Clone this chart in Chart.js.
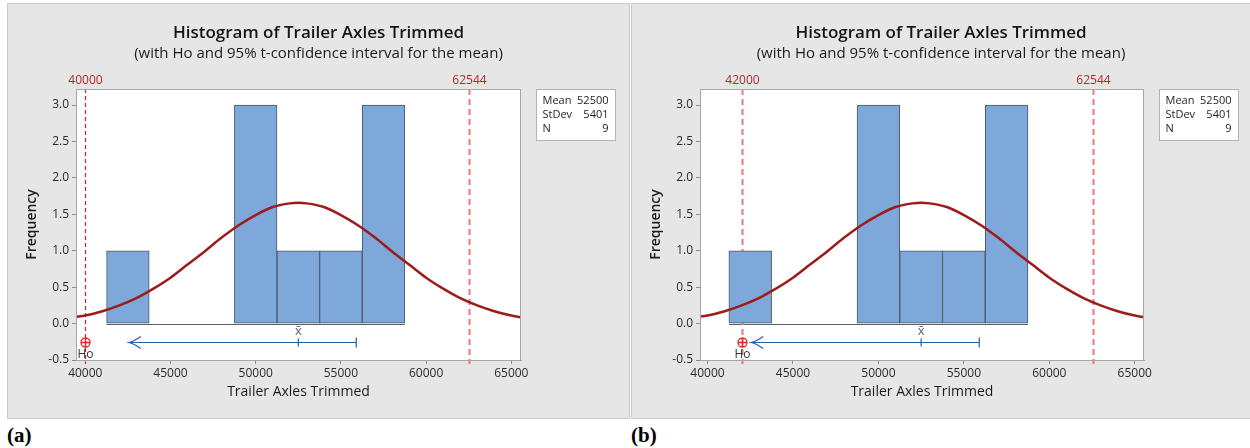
<!DOCTYPE html>
<html>
<head>
<meta charset="utf-8">
<script src="https://cdn.jsdelivr.net/npm/chart.js@4/dist/chart.umd.min.js"></script>
<style>
  html, body { margin: 0; padding: 0; background: #ffffff; width: 1250px; height: 448px; overflow: hidden; }
  .panel { position: absolute; background: #e6e6e6; border: 1px solid #c9c9c9; box-sizing: border-box; }
  canvas { position: absolute; }
  .tag { position: absolute; font-family: "Liberation Serif", "Times New Roman", serif; font-weight: bold; font-size: 21px; color: #000; line-height: 1; }
</style>
</head>
<body>
<div class="panel" style="left:7px;top:3px;width:623px;height:416px;"></div>
<div class="panel" style="left:631px;top:3px;width:630px;height:416px;"></div>
<canvas id="chartA" style="left:8px;top:4px;width:621px;height:414px;" width="621" height="414"></canvas>
<canvas id="chartB" style="left:632px;top:4px;width:618px;height:414px;" width="618" height="414"></canvas>
<div class="tag" style="left:7px;top:425px;">(a)</div>
<div class="tag" style="left:631px;top:425px;">(b)</div>
<script>
// ---------- data ----------
const binCenters = [42500, 45000, 47500, 50000, 52500, 55000, 57500];
const binCounts  = [1, 0, 0, 3, 1, 1, 3];

const curveX = [39400, 40000, 41000, 42000, 43000, 44000, 45000, 46000, 47000, 48000, 49000, 50000, 51000, 52000, 52500,
                53000, 54000, 55000, 56000, 57000, 58000, 59000, 60000, 61000, 62000, 63000, 64000, 65000, 65700];
const curveY = [0.09, 0.11, 0.17, 0.25, 0.35, 0.48, 0.63, 0.81, 0.99, 1.18, 1.35, 1.49, 1.60, 1.65, 1.66,
                1.65, 1.60, 1.49, 1.35, 1.18, 0.99, 0.81, 0.63, 0.48, 0.35, 0.25, 0.17, 0.11, 0.08];

const xTickValues = [40000, 45000, 50000, 55000, 60000, 65000];
const yTickValues = [-0.5, 0.0, 0.5, 1.0, 1.5, 2.0, 2.5, 3.0];

const hoValues   = [40000, 42000];   // panel (a), panel (b)
const refLine    = 62544;
const meanValue  = 52500;
const stdevValue = 5401;
const nValue     = 9;
const ciUpper    = 55900;
const ciArrowTip = 42550;
const ciLevelY   = -0.25;

const titleText    = 'Histogram of Trailer Axles Trimmed';
const subtitleText = '(with Ho and 95% t-confidence interval for the mean)';
const xTitle = 'Trailer Axles Trimmed';
const yTitle = 'Frequency';
const statLabels = ['Mean', 'StDev', 'N'];
const statValues = [meanValue, stdevValue, nValue];

// ---------- drawing ----------
Chart.defaults.font.family = '"Open Sans", "Noto Sans", sans-serif';
Chart.defaults.color = '#262626';

const FONT = '"Open Sans", "Noto Sans", sans-serif';

const decor = {
  id: 'decor',
  beforeDatasetsDraw(chart, args, o) {
    const {ctx, chartArea: a, scales: {x, y}} = chart;
    ctx.save();
    // white plot background
    ctx.fillStyle = '#ffffff';
    ctx.fillRect(a.left, a.top, a.width, a.height);
    // baseline under the histogram
    const bw = binCenters[1] - binCenters[0];
    const y0 = Math.round(y.getPixelForValue(0)) + 0.5;
    ctx.strokeStyle = '#55606c';
    ctx.lineWidth = 1;
    ctx.beginPath();
    ctx.moveTo(x.getPixelForValue(binCenters[0] - bw / 2), y0);
    ctx.lineTo(x.getPixelForValue(binCenters[binCenters.length - 1] + bw / 2), y0);
    ctx.stroke();
    // dashed reference lines
    o.lines.forEach(l => {
      const px = Math.round(x.getPixelForValue(l.value)) + 0.5;
      ctx.strokeStyle = l.color;
      ctx.lineWidth = l.width;
      ctx.setLineDash(l.dash);
      ctx.beginPath();
      ctx.moveTo(px, a.top);
      ctx.lineTo(px, a.bottom + 4);
      ctx.stroke();
      ctx.setLineDash([]);
      ctx.fillStyle = '#b0282c';
      ctx.font = '12px ' + FONT;
      ctx.textAlign = 'center';
      ctx.textBaseline = 'middle';
      ctx.fillText(String(l.value), px, a.top - 8);
    });
    ctx.restore();
  },
  afterDraw(chart, args, o) {
    const {ctx, chartArea: a, scales: {x, y}} = chart;
    ctx.save();
    // plot frame
    ctx.strokeStyle = '#a6a6a6';
    ctx.lineWidth = 1;
    ctx.strokeRect(Math.round(a.left) + 0.5, Math.round(a.top) + 0.5, Math.round(a.width) - 1, Math.round(a.height));

    // confidence interval
    const yy = Math.round(y.getPixelForValue(ciLevelY)) + 0.5;
    const xu = x.getPixelForValue(ciUpper);
    const xt = x.getPixelForValue(ciArrowTip);
    const xm = x.getPixelForValue(meanValue);
    ctx.strokeStyle = '#215ea6';
    ctx.lineWidth = 1.2;
    ctx.beginPath();
    ctx.moveTo(xt, yy); ctx.lineTo(xu, yy);
    ctx.moveTo(xu, yy - 5); ctx.lineTo(xu, yy + 5);
    ctx.moveTo(xm, yy - 4); ctx.lineTo(xm, yy + 4);
    ctx.stroke();
    ctx.beginPath();
    ctx.moveTo(xt + 12, yy - 6);
    ctx.quadraticCurveTo(xt + 5, yy - 1, xt, yy);
    ctx.quadraticCurveTo(xt + 5, yy + 1, xt + 12, yy + 6);
    ctx.stroke();
    ctx.fillStyle = '#5f5f5f';
    ctx.font = '13px ' + FONT;
    ctx.textAlign = 'center';
    ctx.textBaseline = 'middle';
    ctx.fillText('x\u0304', xm, yy - 11);

    // Ho marker
    const xh = Math.round(x.getPixelForValue(o.ho)) + 0.5;
    ctx.strokeStyle = '#e02626';
    ctx.lineWidth = 1.3;
    ctx.beginPath();
    ctx.arc(xh, yy, 4.5, 0, Math.PI * 2);
    ctx.moveTo(xh - 4.5, yy); ctx.lineTo(xh + 4.5, yy);
    ctx.moveTo(xh, yy - 4.5); ctx.lineTo(xh, yy + 4.5);
    ctx.stroke();
    ctx.fillStyle = '#333333';
    ctx.font = '12px ' + FONT;
    ctx.fillText('Ho', xh, yy + 12);

    // statistics box
    const bx = Math.round(a.right) + 15.5, by = Math.round(a.top) + 0.5;
    ctx.fillStyle = '#ffffff';
    ctx.fillRect(bx, by, 79, 51);
    ctx.strokeStyle = '#b3b3b3';
    ctx.lineWidth = 1;
    ctx.strokeRect(bx, by, 79, 51);
    ctx.fillStyle = '#1e1e1e';
    ctx.font = '11px ' + FONT;
    statLabels.forEach((lab, i) => {
      const ty = by + 11 + i * 14;
      ctx.textAlign = 'left';
      ctx.fillText(lab, bx + 6, ty);
      ctx.textAlign = 'right';
      ctx.fillText(String(statValues[i]), bx + 72, ty);
    });
    ctx.restore();
  }
};

function makeChart(id, ho, xMin, xMax, padRight, lines) {
  const ctx = document.getElementById(id).getContext('2d');
  return new Chart(ctx, {
    data: {
      datasets: [
        {
          type: 'line',
          data: curveX.map((v, i) => ({x: v, y: curveY[i]})),
          borderColor: '#9c1c1c',
          borderWidth: 2.5,
          pointRadius: 0,
          cubicInterpolationMode: 'monotone',
          fill: false,
          order: 1
        },
        {
          type: 'bar',
          data: binCenters.map((v, i) => ({x: v, y: binCounts[i]})),
          backgroundColor: '#7ea8da',
          borderColor: '#4c5866',
          borderWidth: 1,
          borderSkipped: false,
          barPercentage: 1,
          categoryPercentage: 1,
          order: 2
        }
      ]
    },
    options: {
      responsive: false,
      animation: false,
      events: [],
      layout: { padding: 0 },
      plugins: {
        legend: { display: false },
        tooltip: { enabled: false },
        title: {
          display: true, text: titleText, color: '#151515',
          font: { size: 17, weight: '600', family: FONT, lineHeight: 1.2 },
          padding: { top: 19, bottom: 0 }
        },
        subtitle: {
          display: true, text: subtitleText, color: '#1c1c1c',
          font: { size: 15, weight: '400', family: FONT, lineHeight: 1.2 },
          padding: { top: 1.1, bottom: 26.5 }
        },
        decor: { ho: ho, lines: lines }
      },
      scales: {
        x: {
          type: 'linear', position: 'bottom', min: xMin, max: xMax, offset: false,
          afterBuildTicks: s => { s.ticks = xTickValues.map(v => ({value: v})); },
          afterFit: s => { s.height = 58; s.paddingLeft = 0; s.paddingRight = 0; },
          ticks: { callback: v => String(v), padding: 2, maxRotation: 0, autoSkip: false, color: '#2a2a2a', font: { size: 12 } },
          grid: { display: true, offset: false, drawOnChartArea: false, drawTicks: true, tickLength: 4, color: '#8c8c8c' },
          border: { display: true, color: '#a6a6a6' },
          title: { display: true, text: xTitle, color: '#1c1c1c', font: { size: 14, lineHeight: 1.2 }, padding: { top: 0, bottom: 17.6 } }
        },
        y: {
          type: 'linear', position: 'left', min: -0.5, max: 3.22,
          afterBuildTicks: s => { s.ticks = yTickValues.map(v => ({value: v})); },
          afterFit: s => { s.width = 68; s.paddingTop = 0; s.paddingBottom = 0; },
          ticks: { callback: v => Number(v).toFixed(1), padding: 3, color: '#2a2a2a', font: { size: 12 } },
          grid: { display: true, drawOnChartArea: false, drawTicks: true, tickLength: 4, color: '#8c8c8c' },
          border: { display: true, color: '#a6a6a6' },
          title: { display: true, text: yTitle, color: '#1c1c1c', font: { size: 14, weight: '600', lineHeight: 1.2 }, padding: { top: 15.6, bottom: 0 } }
        },
        pad: {
          type: 'linear', position: 'right', display: true,
          afterFit: s => { s.width = padRight; s.paddingTop = 0; s.paddingBottom = 0; },
          ticks: { display: false },
          grid: { display: false },
          border: { display: false }
        }
      }
    },
    plugins: [decor]
  });
}

makeChart('chartA', hoValues[0], 39455, 65568, 108, [
  { value: hoValues[0], color: '#c8262b', width: 1.2, dash: [4, 3] },
  { value: refLine, color: '#e8777b', width: 2, dash: [6, 4] }
]);
makeChart('chartB', hoValues[1], 39560, 65540, 106, [
  { value: hoValues[1], color: '#e8777b', width: 2, dash: [6, 4] },
  { value: refLine, color: '#e8777b', width: 2, dash: [6, 4] }
]);
</script>
</body>
</html>
